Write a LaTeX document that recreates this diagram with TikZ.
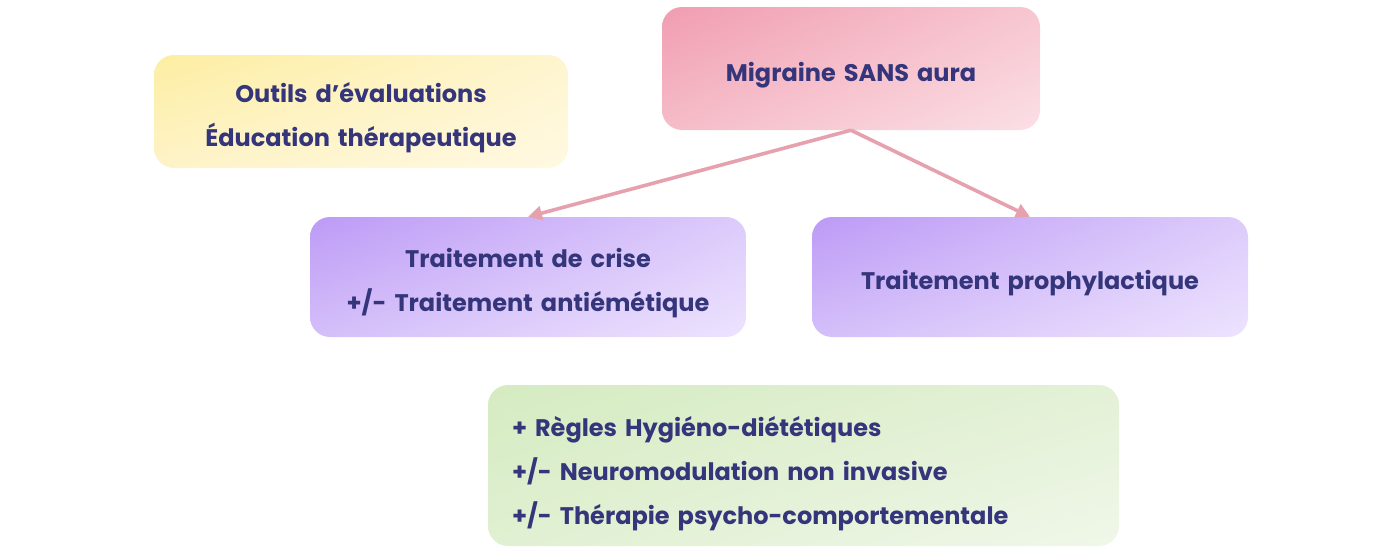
\documentclass[tikz,border=0pt]{standalone}
\usepackage{fontspec}
\setmainfont{Poppins}
\usetikzlibrary{arrows.meta,shadings}
\definecolor{texte}{HTML}{34357A}
\definecolor{fleche}{HTML}{E6A1AF}
\definecolor{pinkA}{HTML}{F19DB1}\definecolor{pinkB}{HTML}{F7C6D0}
\definecolor{pinkC}{HTML}{F5BCC8}\definecolor{pinkD}{HTML}{FBDFE5}
\definecolor{yellowA}{HTML}{FDEEA2}\definecolor{yellowB}{HTML}{FEF5CF}
\definecolor{yellowC}{HTML}{FEF3C8}\definecolor{yellowD}{HTML}{FFF9E2}
\definecolor{purpleA}{HTML}{BD9AF6}\definecolor{purpleB}{HTML}{DCCBFB}
\definecolor{purpleC}{HTML}{D4BFF9}\definecolor{purpleD}{HTML}{EDE3FE}
\definecolor{greenA}{HTML}{D5EBC1}\definecolor{greenB}{HTML}{E3F1D6}
\definecolor{greenC}{HTML}{E0F0D2}\definecolor{greenD}{HTML}{F0F7E9}
\tikzset{
	box/.style={rounded corners=20pt, shade, inner sep=0pt, text=texte,
		font=\fontsize{24}{44.3}\selectfont\bfseries, align=center, text height=30pt},
	oneline/.style={text depth=5pt},
	twolines/.style={text depth=49pt},
	threelines/.style={text depth=89pt},
	pinkbox/.style={box, upper left=pinkA, upper right=pinkB, lower left=pinkC, lower right=pinkD},
	yellowbox/.style={box, upper left=yellowA, upper right=yellowB, lower left=yellowC, lower right=yellowD},
	purplebox/.style={box, upper left=purpleA, upper right=purpleB, lower left=purpleC, lower right=purpleD},
	greenbox/.style={box, upper left=greenA, upper right=greenB, lower left=greenC, lower right=greenD},
	arrowline/.style={draw=fleche, line width=3.6pt, -{Triangle[length=14pt, width=14pt]}}
}
\begin{document}
\begin{tikzpicture}[x=1pt, y=-1pt]
			%%%%% START %%%%%
			\useasboundingbox (0, 0) rectangle (1399, 557);
			
			\node[pinkbox, oneline, minimum width=378pt, minimum height=123pt, text width=378pt] (migraine) at (851, 68.5)
				{Migraine SANS aura};
			\node[yellowbox, twolines, minimum width=414pt, minimum height=113pt, text width=414pt] (outils) at (361, 111.5)
				{Outils d’évaluations\\Éducation thérapeutique};
			
			\node[purplebox, twolines, minimum width=436pt, minimum height=120pt, text width=436pt] (crise) at (528, 277)
				{Traitement de crise\\+/- Traitement antiémétique};
			\node[purplebox, oneline, minimum width=436pt, minimum height=120pt, text width=436pt] (prophylaxie) at (1030, 277)
				{Traitement prophylactique};
			
			\node[greenbox, threelines, minimum width=631pt, minimum height=161pt, text width=583pt, align=left] (regles) at (803.5, 465.5)
				{+ Règles Hygiéno-diététiques\\+/- Neuromodulation non invasive\\+/- Thérapie psycho-comportementale};
			
			\draw[arrowline] (migraine.south) -- (crise.north);
			\draw[arrowline] (migraine.south) -- (prophylaxie.north);
			%%%%% END %%%%%
\end{tikzpicture}
\end{document}
